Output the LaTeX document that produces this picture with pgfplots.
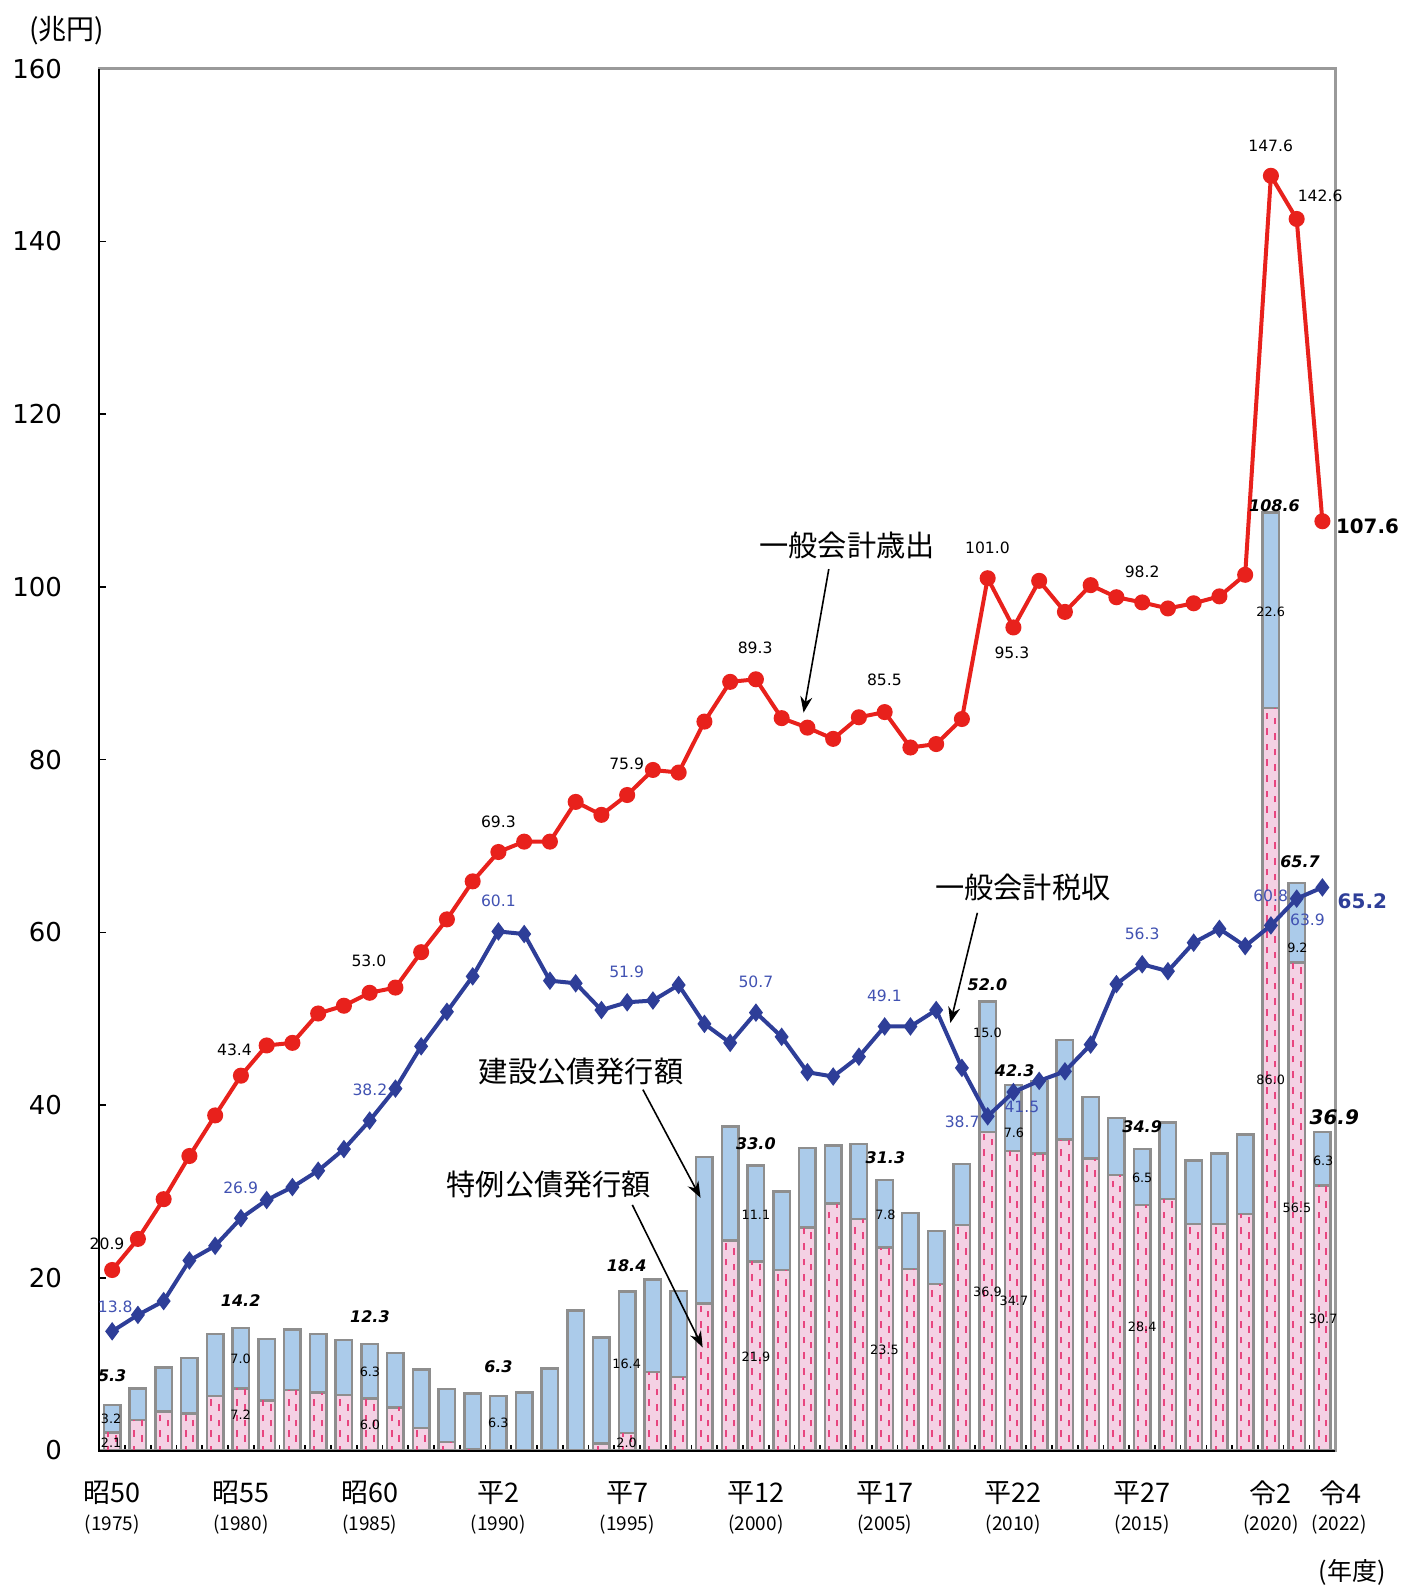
\documentclass[border=0pt]{standalone}
\usepackage{fontspec}
\setmainfont{DejaVu Sans}
\newfontfamily\jp{Noto Sans CJK JP}
\usepackage{pgfplots}
\pgfplotsset{compat=1.18}
\usepackage{pgfplotstable}
\usetikzlibrary{arrows.meta}

\definecolor{redline}{HTML}{E8211C}
\definecolor{blueline}{HTML}{2E3E98}
\definecolor{bluelab}{HTML}{4152B2}
\definecolor{barblue}{HTML}{ABCBEA}
\definecolor{barpink}{HTML}{F4D1E4}
\definecolor{dashpink}{HTML}{E8457F}
\definecolor{bargray}{HTML}{8E8E8E}
\definecolor{axgray}{HTML}{9A9A9A}

\pgfplotstableread{
year exp tax total sp
1975 20.9 13.8 5.3 2.1
1976 24.5 15.7 7.2 3.5
1977 29.1 17.3 9.6 4.5
1978 34.1 22.0 10.7 4.3
1979 38.8 23.7 13.5 6.3
1980 43.4 26.9 14.2 7.2
1981 46.9 29.0 12.9 5.8
1982 47.2 30.5 14.0 7.0
1983 50.6 32.4 13.5 6.7
1984 51.5 34.9 12.8 6.4
1985 53.0 38.2 12.3 6.0
1986 53.6 41.9 11.3 5.0
1987 57.7 46.8 9.4 2.6
1988 61.5 50.8 7.1 1.0
1989 65.9 54.9 6.6 0.2
1990 69.3 60.1 6.3 0
1991 70.5 59.8 6.7 0
1992 70.5 54.4 9.5 0
1993 75.1 54.1 16.2 0
1994 73.6 51.0 13.1 0.8
1995 75.9 51.9 18.4 2.0
1996 78.8 52.1 19.8 9.1
1997 78.5 53.9 18.5 8.5
1998 84.4 49.4 34.0 17.0
1999 89.0 47.2 37.5 24.3
2000 89.3 50.7 33.0 21.9
2001 84.8 47.9 30.0 20.9
2002 83.7 43.8 35.0 25.8
2003 82.4 43.3 35.3 28.6
2004 84.9 45.6 35.5 26.8
2005 85.5 49.1 31.3 23.5
2006 81.4 49.1 27.5 21.0
2007 81.8 51.0 25.4 19.3
2008 84.7 44.3 33.2 26.1
2009 101.0 38.7 52.0 36.9
2010 95.3 41.5 42.3 34.7
2011 100.7 42.8 42.8 34.4
2012 97.1 43.9 47.5 36.0
2013 100.2 47.0 40.9 33.8
2014 98.8 54.0 38.5 31.9
2015 98.2 56.3 34.9 28.4
2016 97.5 55.5 38.0 29.1
2017 98.1 58.8 33.6 26.2
2018 98.9 60.4 34.4 26.2
2019 101.4 58.4 36.6 27.4
2020 147.6 60.8 108.6 86.0
2021 142.6 63.9 65.7 56.5
2022 107.6 65.2 36.9 30.7
}\data

\begin{document}
\begin{tikzpicture}[
  rl/.style={font=\fontsize{7.8}{9}\selectfont, inner sep=0pt},
  bl/.style={font=\fontsize{7.8}{9}\selectfont, text=bluelab, inner sep=0pt},
  tl/.style={font=\fontsize{8}{9}\selectfont\bfseries\itshape, inner sep=0pt},
  il/.style={font=\fontsize{6.4}{7}\selectfont, inner sep=0pt},
  jl/.style={font=\jp\fontsize{14.6}{16}\selectfont, inner sep=0pt},
  arr/.style={-{Stealth[length=8pt,width=6pt]}, line width=0.8pt, black}
]
\begin{axis}[name=ax, at={(0,0)}, anchor=south west,
  scale only axis, width=618pt, height=690.9pt,
  xmin=1974.5, xmax=2022.5, ymin=0, ymax=160,
  clip=false,
  axis line style={draw=axgray, line width=1.2pt},
  ytick={0,20,...,160},
  ytick pos=left, xtick pos=bottom,
  tick align=inside,
  major tick length=3.5pt,
  minor tick length=3pt,
  tick style={black, line width=0.8pt},
  every major x tick/.append style={draw=none},
  minor xtick={1975.5,1976.5,...,2021.5},
  /pgf/number format/assume math mode=true,
  yticklabel style={font=\fontsize{13}{14}\selectfont, anchor=east, inner sep=0pt, xshift=-18.5pt},
  xtick={1975,1980,1985,1990,1995,2000,2005,2010,2015,2020,2022},
  xticklabels={昭50,昭55,昭60,平2,平7,平12,平17,平22,平27,令2,\hspace*{18pt}令4},
  xticklabel style={font=\jp\fontsize{13.5}{15}\selectfont, anchor=center, inner sep=0pt, yshift=-21.25pt},
  extra x ticks={1975,1980,1985,1990,1995,2000,2005,2010,2015,2020,2022},
  extra x tick labels={(1975),(1980),(1985),(1990),(1995),(2000),(2005),(2010),(2015),(2020),\hspace*{17pt}(2022)},
  extra x tick style={major tick length=0pt, xticklabel style={font=\jp\fontsize{9.5}{10}\selectfont, yshift=-16pt}},
]
% bars: total (blue) then special (pink) over it
\addplot[ybar, bar width=8.25pt, bar shift=0pt, fill=barblue, draw=bargray, line width=1.2pt] table[x=year, y=total] {\data};
\addplot[ybar, bar width=8.25pt, bar shift=0pt, fill=barpink, draw=bargray, line width=1.2pt] table[x=year, y=sp] {\data};
\addplot[ycomb, draw=dashpink, line width=1pt, dash pattern=on 3.3pt off 4.5pt, dash phase=1pt, mark=none] table[x expr=\thisrow{year}-0.15, y=sp] {\data};
\addplot[ycomb, draw=dashpink, line width=1pt, dash pattern=on 3.3pt off 4.5pt, dash phase=3.5pt, mark=none] table[x expr=\thisrow{year}+0.15, y=sp] {\data};
% axis left/bottom black
\draw[black, line width=1pt] (rel axis cs:0,1) -- (rel axis cs:0,0) -- (rel axis cs:1,0);
% lines
\addplot[redline, line width=2pt, mark=*, mark size=3pt, mark options={fill=redline, draw=redline}] table[x=year, y=exp] {\data};
\addplot[blueline, line width=2pt, mark=diamond*, mark size=3pt, mark options={fill=blueline, draw=blueline}] table[x=year, y=tax] {\data};

% expenditure labels
\node[rl] at (axis cs:1974.80,23.88) {20.9};
\node[rl] at (axis cs:1979.75,46.35) {43.4};
\node[rl] at (axis cs:1984.97,56.65) {53.0};
\node[rl] at (axis cs:1990.0,72.8) {69.3};
\node[rl] at (axis cs:1994.98,79.47) {75.9};
\node[rl] at (axis cs:1999.97,92.93) {89.3};
\node[rl] at (axis cs:2004.99,89.18) {85.5};
\node[rl] at (axis cs:2008.99,104.52) {101.0};
\node[rl] at (axis cs:2009.94,92.35) {95.3};
\node[rl] at (axis cs:2015.0,101.71) {98.2};
\node[rl] at (axis cs:2019.99,151.1) {147.6};
\node[rl] at (axis cs:2021.91,145.25) {142.6};
\node[font=\fontsize{9.9}{11}\selectfont\bfseries, inner sep=0pt] at (axis cs:2023.75,106.98) {107.6};
% tax labels
\node[bl] at (axis cs:1975.12,16.62) {13.8};
\node[bl] at (axis cs:1979.99,30.43) {26.9};
\node[bl] at (axis cs:1985.01,41.79) {38.2};
\node[bl] at (axis cs:1990.0,63.67) {60.1};
\node[bl] at (axis cs:1994.98,55.48) {51.9};
\node[bl] at (axis cs:2000.0,54.31) {50.7};
\node[bl] at (axis cs:2004.99,52.67) {49.1};
\node[bl] at (axis cs:2008.01,38.04) {38.7};
\node[bl] at (axis cs:2010.33,39.8) {41.5};
\node[bl] at (axis cs:2015.0,59.81) {56.3};
\node[bl] at (axis cs:2019.99,64.26) {60.8};
\node[bl] at (axis cs:2021.42,61.43) {63.9};
\node[font=\fontsize{10}{11}\selectfont\bfseries, text=blueline, inner sep=0pt] at (axis cs:2023.55,63.55) {65.2};
% bond totals
\node[tl] at (axis cs:1975.0,8.66) {5.3};
\node[tl] at (axis cs:1979.99,17.32) {14.2};
\node[tl] at (axis cs:1985.01,15.45) {12.3};
\node[tl] at (axis cs:1990.0,9.71) {6.3};
\node[tl] at (axis cs:1994.98,21.42) {18.4};
\node[tl] at (axis cs:2000.0,35.47) {33.0};
\node[tl] at (axis cs:2005.03,33.94) {31.3};
\node[tl] at (axis cs:2008.99,53.96) {52.0};
\node[tl] at (axis cs:2010.05,44.01) {42.3};
\node[tl] at (axis cs:2015.0,37.45) {34.9};
\node[tl] at (axis cs:2020.14,109.43) {108.6};
\node[tl] at (axis cs:2021.13,68.18) {65.7};
\node[font=\fontsize{10}{11}\selectfont\bfseries\itshape, inner sep=0pt] at (axis cs:2022.46,38.62) {36.9};
% inner labels
\node[il] at (axis cs:1974.96,3.62) {3.2};
\node[il] at (axis cs:1974.96,0.94) {2.1};
\node[il] at (axis cs:1979.99,10.65) {7.0};
\node[il] at (axis cs:1979.99,4.1) {7.2};
\node[il] at (axis cs:1985.01,9.13) {6.3};
\node[il] at (axis cs:1985.01,2.93) {6.0};
\node[il] at (axis cs:1990.0,3.16) {6.3};
\node[il] at (axis cs:1994.98,10.06) {16.4};
\node[il] at (axis cs:1994.98,0.94) {2.0};
\node[il] at (axis cs:2000.0,27.27) {11.1};
\node[il] at (axis cs:2000.0,10.88) {21.9};
\node[il] at (axis cs:2005.03,27.27) {7.8};
\node[il] at (axis cs:2004.99,11.7) {23.5};
\node[il] at (axis cs:2008.99,48.34) {15.0};
\node[il] at (axis cs:2008.99,18.38) {36.9};
\node[il] at (axis cs:2010.02,36.75) {7.6};
\node[il] at (axis cs:2010.02,17.32) {34.7};
\node[il] at (axis cs:2015.0,31.6) {6.5};
\node[il] at (axis cs:2015.0,14.28) {28.4};
\node[il] at (axis cs:2019.99,97.15) {22.6};
\node[il] at (axis cs:2019.99,42.96) {86.0};
\node[il] at (axis cs:2021.03,58.15) {9.2};
\node[il] at (axis cs:2021.01,28.09) {56.5};
\node[il] at (axis cs:2022.03,33.59) {6.3};
\node[il] at (axis cs:2022.03,15.21) {30.7};
% annotations
\node[jl] at (axis cs:2003.54,104.76) {一般会計歳出};
\draw[arr] (axis cs:2002.83,102.06) -- (axis cs:2001.85,85.44);
\node[jl] at (axis cs:2010.37,65.19) {一般会計税収};
\draw[arr] (axis cs:2008.6,62.26) -- (axis cs:2007.55,49.5);
\node[jl] at (axis cs:1993.21,43.9) {建設公債発行額};
\draw[arr] (axis cs:1995.61,41.79) -- (axis cs:1997.85,29.26);
\node[jl] at (axis cs:1991.96,30.78) {特例公債発行額};
\draw[arr] (axis cs:1995.2,28.44) -- (axis cs:1997.93,11.94);
\end{axis}
\node[font=\jp\fontsize{14}{16}\selectfont, inner sep=0pt] at ([shift={(-16.3pt,709.8pt)}]ax.south west) {(兆円)};
\node[font=\jp\fontsize{12.5}{14}\selectfont, inner sep=0pt] at ([shift={(626.35pt,-60.75pt)}]ax.south west) {(年度)};
\path[use as bounding box] ([shift={(-49.65pt,-67.25pt)}]ax.south west) rectangle ([shift={(33.75pt,34.35pt)}]ax.north east);
\end{tikzpicture}
\end{document}
